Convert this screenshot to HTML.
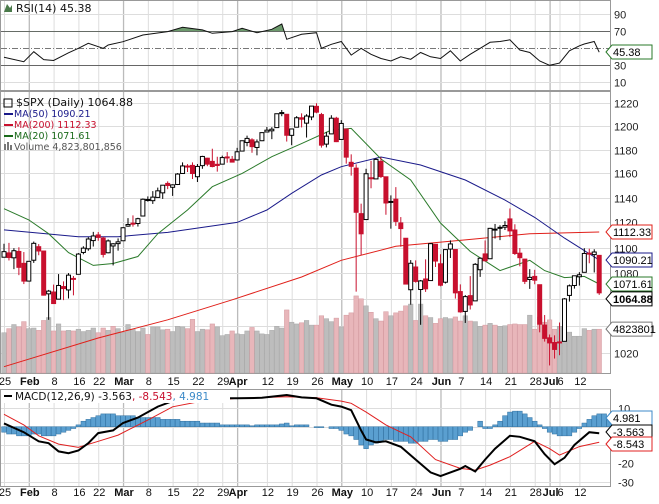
<!DOCTYPE html>
<html><head><meta charset="utf-8"><style>
html,body{margin:0;padding:0;background:#fff;}
svg{display:block;font-family:"Liberation Sans",Arial,sans-serif;}
</style></head><body>
<svg id="chart" width="659" height="504" viewBox="0 0 659 504" xmlns="http://www.w3.org/2000/svg">
<rect x="0" y="0" width="659" height="504" fill="#fff"/>
<g id="grid"></g><g id="vol"></g><g id="lines"></g><g id="candles"></g><g id="rsi"></g><g id="macd"></g><g id="axes"></g><g id="legend"></g>
</svg>
<script>
const dates=['25','26','27','28','29','Feb1','2','3','4','5','8','9','10','11','12','16','17','18','19','22','23','24','25','26','Mar1','2','3','4','5','8','9','10','11','12','15','16','17','18','19','22','23','24','25','26','29','30','31','Apr1','5','6','7','8','9','12','13','14','15','16','19','20','21','22','23','26','27','28','29','30','May3','4','5','6','7','10','11','12','13','14','17','18','19','20','21','24','25','26','27','28','Jun1','2','3','4','7','8','9','10','11','14','15','16','17','18','21','22','23','24','25','28','29','30','Jul1','2','6','7','8','9','12','13','14','15','16'];
const opens=[1092.4,1095.8,1091.94,1096.93,1087.61,1073.89,1090.05,1100.67,1097.25,1064.12,1065.51,1060.06,1069.68,1067.1,1075.95,1079.13,1096.14,1099.03,1105.49,1110,1107.49,1095.89,1101.24,1103.1,1105.36,1117.01,1119.36,1119.12,1125.12,1138.4,1137.56,1140.22,1143.96,1151.71,1148.53,1150.83,1159.94,1166.13,1166.68,1157.25,1166.47,1172.7,1170.03,1167.58,1167.71,1173.75,1171.75,1171.23,1178.71,1186.01,1188.23,1181.75,1187.47,1194.94,1195.94,1198.69,1210.77,1210.17,1192.06,1199.04,1207.16,1202.52,1207.87,1217.07,1209.92,1184.59,1193.3,1206.77,1188.58,1197.5,1169.24,1164.38,1127.04,1122.27,1156.39,1155.43,1170.04,1157.19,1136.52,1138.78,1119.57,1107.34,1067.26,1084.78,1067.42,1075.51,1074.27,1102.59,1087.3,1073.01,1098.82,1098.43,1065.84,1050.81,1062.75,1058.77,1082.65,1095,1091.21,1114.02,1115.98,1116.16,1122.79,1113.9,1095.57,1090.93,1075.1,1077.5,1071.1,1040.56,1031.1,1027.65,1028.09,1028.54,1062.92,1070.5,1077.23,1080.65,1095.61,1094.46,1093.85];
const highs=[1102.97,1103.69,1099.51,1100.22,1096.45,1089.38,1104.73,1102.72,1097.25,1067.13,1071.2,1079.28,1073.67,1080.04,1077.81,1095.67,1101.03,1108.24,1112.42,1112.29,1108.58,1106.42,1103.5,1107.24,1116.11,1123.46,1125.64,1123.73,1139.38,1141.05,1145.37,1148.26,1150.24,1153.41,1150.98,1160.28,1169.2,1167.77,1169.2,1167.82,1174.72,1173.04,1180.69,1173.93,1174.85,1177.83,1174.56,1181.43,1187.73,1191.8,1189.6,1188.55,1194.66,1199.2,1199.04,1210.65,1213.92,1210.17,1197.87,1208.58,1210.99,1210.27,1217.28,1219.8,1211.38,1195.05,1209.36,1207.99,1205.13,1197.5,1175.95,1167.58,1135.13,1163.85,1170.48,1172.87,1173.57,1157.19,1141.88,1148.66,1124.27,1107.34,1090.16,1089.95,1074.75,1090.75,1103.52,1102.59,1094.77,1098.56,1105.67,1098.43,1071.36,1063.15,1077.74,1087.85,1092.25,1105.63,1115.59,1118.74,1117.72,1121.01,1131.23,1118.5,1099.64,1090.93,1083.11,1082.6,1071.1,1048.08,1033.58,1032.95,1042.5,1060.89,1071.25,1078.16,1080.78,1099.46,1099.08,1098.66,1093.85];
const lows=[1092.4,1089.86,1083.11,1078.46,1071.59,1073.89,1087.96,1093.97,1062.78,1044.5,1056.51,1060.06,1059.34,1060.59,1062.97,1079.13,1094.72,1097.48,1100.8,1105.38,1092.18,1095.5,1086.02,1097.56,1105.36,1116.51,1116.58,1116.66,1125.12,1136.77,1134.9,1140.09,1138.99,1146.97,1141.45,1150.35,1159.94,1161.16,1155.33,1152.88,1163.83,1166.01,1165.09,1161.48,1167.71,1168.92,1169.15,1170.69,1178.71,1182.77,1177.25,1175.12,1187.15,1194.71,1188.82,1198.69,1208.5,1186.77,1183.68,1199.04,1198.85,1190.19,1205.1,1211.07,1181.62,1181.81,1193.3,1186.32,1188.58,1168.12,1158.15,1065.79,1094.15,1122.27,1147.71,1155.43,1156.14,1126.14,1114.96,1117.2,1100.66,1071.58,1055.9,1072.7,1040.78,1065.59,1074.27,1084.78,1069.89,1072.03,1091.81,1060.5,1049.86,1042.17,1052.25,1058.77,1077.12,1089.03,1091.21,1107.13,1105.87,1113.93,1108.24,1094.18,1085.31,1071.6,1067.89,1071.45,1035.18,1028.33,1010.91,1015.93,1018.35,1028.54,1058.24,1068.1,1070.45,1080.65,1087.68,1080.53,1063.32];
const closes=[1096.78,1092.17,1097.5,1084.53,1073.87,1089.19,1103.32,1097.28,1063.11,1066.19,1056.74,1070.52,1068.13,1078.47,1075.51,1094.87,1099.51,1106.75,1109.17,1108.01,1094.6,1105.24,1102.94,1104.49,1115.71,1118.31,1118.79,1122.97,1138.7,1138.5,1140.45,1145.61,1150.24,1149.99,1150.51,1159.46,1166.21,1165.83,1159.9,1165.81,1174.17,1167.72,1165.73,1166.59,1173.22,1173.27,1169.43,1178.1,1187.44,1189.44,1182.45,1186.44,1194.37,1196.48,1197.3,1210.65,1211.67,1192.13,1197.52,1207.17,1205.94,1208.67,1217.28,1212.05,1183.71,1191.36,1206.78,1186.69,1202.26,1173.6,1165.9,1128.15,1110.88,1159.73,1155.79,1171.67,1157.44,1135.68,1136.94,1120.8,1115.05,1071.59,1087.69,1073.65,1074.03,1067.95,1103.06,1089.41,1070.71,1098.38,1102.83,1064.88,1050.47,1062,1055.69,1086.84,1091.6,1089.63,1115.23,1114.61,1116.04,1117.51,1113.2,1095.31,1092.04,1073.69,1076.76,1074.57,1041.24,1030.71,1027.37,1022.58,1028.06,1060.27,1070.25,1077.96,1078.75,1095.34,1095.17,1096.48,1064.88];
const volumes=[4.2,4.9,5.6,5.2,6.1,4.9,5.0,4.6,6.3,6.8,4.5,5.7,4.5,4.6,4.5,4.8,4.4,4.6,5.0,4.2,5.0,4.6,5.3,4.9,4.3,5.6,4.8,4.4,5.0,3.9,5.2,5.2,4.7,4.8,4.4,5.3,5.2,4.9,6.5,4.4,4.8,4.7,5.7,5.2,3.7,3.9,4.5,4.0,3.9,4.5,5.1,4.5,4.0,3.9,4.6,5.3,5.0,8.1,6.0,5.7,5.9,6.3,5.5,5.5,7.1,6.6,6.1,6.7,5.2,7.2,7.6,10.5,10.0,8.8,7.7,6.6,6.2,7.8,7.1,7.6,7.9,8.8,9.1,6.3,9.1,7.1,6.8,5.8,6.6,6.8,6.6,6.9,6.2,7.1,6.2,6.1,5.3,5.5,5.8,5.5,5.3,5.4,5.6,5.7,5.6,5.6,7.2,4.8,6.9,6.0,6.4,4.8,5.3,4.8,4.3,3.6,3.6,4.9,4.6,4.8,4.8];
const ma50Idx=[0,15,23,33,40,47,53,58,64,68,76,84,93,101,107,113,120];
const ma50Val=[1114,1108.6,1108.6,1112,1116,1120,1130,1143.6,1158.7,1165.6,1173.7,1167,1154.5,1138,1124,1107.5,1090.21];
const ma20Idx=[0,5,9,13,18,22,27,31,37,42,48,54,60,66,70,76,82,88,94,100,103,106,109,113,117,120];
const ma20Val=[1131,1122,1111,1096,1086,1087.5,1093,1111,1130,1149,1160,1174,1185,1196.6,1198,1172,1154.5,1119.5,1097,1082,1086,1090,1082,1076.6,1077.5,1071.61];
const ma200Idx=[0,19,33,46,60,68,79,93,106,120];
const ma200Val=[1010,1031,1044.5,1059.6,1077,1090,1101,1106,1111,1112.33];
const rsiIdx=[0,4,6,8,10,13,15,17,20,21,24,28,33,36,40,42,46,48,51,54,56,57,60,63,64,66,68,70,72,74,76,78,80,82,84,86,88,90,92,94,96,98,100,102,104,106,108,110,112,114,116,117,119,120];
const rsiVal=[39.4,34.2,46,36.7,35.7,44.7,50,55.9,50,53.9,57.8,65.7,69.6,74.7,71.6,67.6,69.6,73.5,68.4,72.3,78.6,60.6,66.5,68.4,50,54.7,58,42,50,43,38,35,40,37,45,40,38,47,35,43,50,57,58,60,48,45,35,30,32.6,47,53,55,58,45.38];
const macdIdx=[0,4,7,9,11,13,15,17,19,22,24,27,31,34,37,40,47,52,57,60,63,66,68,70,72,73,75,77,80,83,86,88,90,92,93,95,97,99,102,104,107,109,111,113,115,118,120];
const macdVal=[1.8,-3,-8,-9,-13.5,-14.5,-13,-9,-3.5,-2,2,5,11,14,15,15.5,15.5,15.8,17.3,16,15.5,12,11,9,-2,-7,-8.5,-8,-11,-18,-25,-27,-25,-23,-21.5,-24.5,-18,-12,-5,-5.5,-8,-15,-20.5,-17,-10,-3,-3.563];
const sigIdx=[0,4,7,11,15,19,23,29,34,39,47,57,63,68,70,73,77,80,82,87,92,95,98,102,107,110,112,116,120];
const sigVal=[6.8,1,-5,-9.5,-11.3,-8,-4.6,3.6,10.9,13.5,15.5,16.4,15.8,14,12.8,8,1,-3,-5.5,-18,-22.8,-23.7,-21,-16.4,-8,-12,-15.5,-10.9,-8.543];
const hist=[-3,-4,-4,-5,-5,-5,-4,-4,-5,-5,-5,-4,-3,-2,-1,1,3,4,5,6,7,7,7,6,6,6,6,5,5,5,5,5,4,4,4,4,3,3,3,3,2,2,2,2,1,1,1,1,1,1,0.5,1,1,1,1,1,1.5,2,0.5,1,1,1,0,-0.5,-0.5,0,-1,-1,-2,-4,-5,-7,-10,-12,-10,-9,-8,-7,-7,-8,-8,-8,-9,-9,-8,-8,-7,-7,-8,-8,-7,-7,-5,-3,-2,0,3,-1,-1,1,3,6,8,8.5,8.5,7,5,3,1,-1,-3,-4,-5,-5,-5,-3,-1,2,4,6,7,7,4.981];
const xLabels=[[0,'25'],[5,'Feb'],[10,'8'],[15,'16'],[19,'22'],[24,'Mar'],[29,'8'],[34,'15'],[39,'22'],[44,'29'],[47,'Apr'],[53,'12'],[58,'19'],[63,'26'],[68,'May'],[73,'10'],[78,'17'],[83,'24'],[88,'Jun'],[92,'7'],[97,'14'],[102,'21'],[107,'28'],[110,'Jul'],[112,'6'],[116,'12']];
const priceTicks=[1220,1200,1180,1160,1140,1120,1100,1080,1060,1040,1020];
const rsiTicks=[90,70,50,30,10];
const macdTicks=[10,0,-10,-20,-30];

const NS='http://www.w3.org/2000/svg';
const PR=610;
function X(i){return 4+i*4.96;}
function PY(p){return 103+1396*Math.log(1220/p);}
function RY(r){return 48.3-(r-50)*0.85;}
function MY(m){return 426.7-m*1.83;}
function VY(v){return 373-(v+2.7)*5.84;}
function mk(par,tag,a){const e=document.createElementNS(NS,tag);for(const k in a)e.setAttribute(k,a[k]);document.getElementById(par).appendChild(e);return e;}
function txt(par,x,y,s,a){const e=mk(par,'text',Object.assign({x:x,y:y},a||{}));e.textContent=s;return e;}
function poly(idx,val,fx,fy){return idx.map((i,k)=>fx(i).toFixed(1)+','+fy(val[k]).toFixed(1)).join(' ');}

// panels
let e;
e=mk('grid','rect',{x:0.5,y:0.5,width:PR,height:90,fill:'#fff',stroke:'#999'});


e=mk('grid','rect',{x:0.5,y:91.5,width:PR,height:282,fill:'#fff',stroke:'#999'});


e=mk('grid','rect',{x:0.5,y:389.5,width:PR,height:97,fill:'#fff',stroke:'#999'});


// vertical grid
xLabels.forEach(l=>{const x=X(l[0])+0.5;const month=isNaN(+l[1]);const c=month?'#bbb':'#ddd';
 [[1,90],[92,373],[390,486]].forEach(r=>{const g=mk('grid','line',{x1:x,x2:x,y1:r[0],y2:r[1],stroke:c,'stroke-width':month?1.3:1});
 
 });
 [381,492].forEach(y=>{const t=txt('axes',X(l[0])+1,y+4,l[1],{'font-size':11,'text-anchor':'middle','font-weight':month?'bold':'normal',fill:'#111'});
 
 });
});
priceTicks.forEach(p=>{const y=Math.round(PY(p))+0.5;const g=mk('grid','line',{x1:1,x2:PR,y1:y,y2:y,stroke:'#ddd'});
 
 
 const t=txt('axes',614,y+4,String(p),{'font-size':11,fill:'#222'});
 
 });
rsiTicks.forEach(r=>{const y=Math.round(RY(r))+0.5;
 const g=mk('grid','line',{x1:1,x2:PR,y1:y,y2:y,stroke:(r==70||r==30)?'#666':(r==50?'#777':'#ddd'),'stroke-dasharray':r==50?'6,2,1,2':'none'});
 
 
 if(r!=50){const t=txt('axes',614,y+4,String(r),{'font-size':11,fill:'#222'});
 
 }});
macdTicks.forEach(m=>{const y=Math.round(MY(m))+0.5;const g=mk('grid','line',{x1:1,x2:PR,y1:y,y2:y,stroke:'#ddd'});
 
 
 if(m!=-10){const t=txt('axes',618,y+4,String(m),{'font-size':11,fill:'#222'});
 
 }});

// volume
volumes.forEach((v,i)=>{const down=i>0&&closes[i]<closes[i-1];const y=VY(v);
 const b=mk('vol','rect',{x:X(i)-2.3,y:y,width:4.6,height:373-y,fill:down?'#e8b6ba':'#bdbdbd',stroke:down?'#d49aa0':'#a8a8a8','stroke-width':0.5});
 
 });

// MAs
[[ma200Idx,ma200Val,'#e0201a','ma200-line'],[ma50Idx,ma50Val,'#1a1a8a','ma50-line'],[ma20Idx,ma20Val,'#2a7a2a','ma20-line']].forEach(s=>{
 const l=mk('lines','polyline',{points:poly(s[0],s[1],X,PY),fill:'none',stroke:s[2],'stroke-width':1});
 
 });

// candles
closes.forEach((c,i)=>{const o=opens[i];const x=X(i);const up=c>=o;const col=up?'#000':'#c8102e';
 const w=mk('candles','line',{x1:x,x2:x,y1:PY(highs[i]),y2:PY(lows[i]),stroke:col,'stroke-width':1});
 
 
 const t=PY(Math.max(o,c)),b=PY(Math.min(o,c));
 const r=mk('candles','rect',{x:x-2,y:t,width:4,height:Math.max(1,b-t),fill:up?'#fff':'#c8102e',stroke:col,'stroke-width':1});
 
 });

// RSI with fill above 70
const rsiPts=poly(rsiIdx,rsiVal,X,RY);
const clip=mk('rsi','clipPath',{id:'above70'});
mk('above70','rect',{x:0,y:0,width:PR,height:RY(70)});
const rf=mk('rsi','polygon',{points:X(0)+','+RY(70)+' '+rsiPts+' '+X(120)+','+RY(70),fill:'#6d9a6d','clip-path':'url(#above70)'});


const rl=mk('rsi','polyline',{points:rsiPts,fill:'none',stroke:'#111','stroke-width':1});



// MACD
hist.forEach((h,i)=>{const y0=MY(0),y1=MY(h);
 const b=mk('macd','rect',{x:X(i)-2.4,y:Math.min(y0,y1),width:4.8,height:Math.abs(y1-y0),fill:'#5a9fd0',stroke:'#2f6f9f','stroke-width':0.5});
 
 });
const sl=mk('macd','polyline',{points:poly(sigIdx,sigVal,X,MY),fill:'none',stroke:'#e02020','stroke-width':1});


const ml=mk('macd','polyline',{points:poly(macdIdx,macdVal,X,MY),fill:'none',stroke:'#000','stroke-width':2});



// value tags
function tag(y,s,col,name,bold){const g=mk('legend','g',{});
 
 
 const p=document.createElementNS(NS,'path');p.setAttribute('d',`M606,${y} L612,${y-7} L652,${y-7} L652,${y+7} L612,${y+7} Z`);p.setAttribute('fill','#fff');p.setAttribute('stroke',col);g.appendChild(p);
 const t=document.createElementNS(NS,'text');t.setAttribute('x',613);t.setAttribute('y',y+4);t.setAttribute('font-size',11);t.setAttribute('fill','#000');if(bold)t.setAttribute('font-weight','bold');t.textContent=s;g.appendChild(t);}
tag(52,'45.38','#2a7a2a','rsi-value-tag');
tag(PY(1112.33),'1112.33','#e0201a','ma200-value-tag');
tag(PY(1090.21),'1090.21','#1a1a8a','ma50-value-tag');
tag(PY(1071.61),'1071.61','#2a7a2a','ma20-value-tag');
tag(PY(1064.88)+6,'1064.88','#000','price-value-tag',true);
tag(VY(4.82),'4823801','#777','volume-value-tag');
tag(418,'4.981','#3c8ac8','histogram-value-tag');
tag(432,'-3.563','#000','macd-value-tag');
tag(444,'-8.543','#e02020','signal-value-tag');

// legends
function leg(x,y,s,col,name,size){const t=txt('legend',x,y,s,{'font-size':size||11,fill:col,'font-family':'DejaVu Sans, sans-serif'});
 
 return t;}
mk('legend','path',{d:'M4,12 L7,4 L10,8 L12,5 L12,12 Z',fill:'#4a7a4a'});
leg(16,12,'RSI(14) 45.38','#111','rsi-legend',11);
leg(16,106,'$SPX (Daily) 1064.88','#111','price-legend',11);
mk('legend','rect',{x:4,y:99,width:8,height:8,fill:'none',stroke:'#000'});
[['MA(50) 1090.21','#1a1a8a',117,'ma50-legend'],['MA(200) 1112.33','#c8102e',128,'ma200-legend'],['MA(20) 1071.61','#1a6a1a',139,'ma20-legend']].forEach(l=>{
 mk('legend','rect',{x:4,y:l[2]-4,width:9,height:2,fill:l[1]});leg(14,l[2],l[0],l[1],l[3],9.5);});
mk('legend','rect',{x:4,y:144,width:2,height:6,fill:'#777'});mk('legend','rect',{x:7,y:142,width:2,height:8,fill:'#777'});mk('legend','rect',{x:10,y:145,width:2,height:5,fill:'#777'});
leg(14,150,'Volume 4,823,801,856','#555','volume-legend',9.5);
mk('legend','rect',{x:2,y:390,width:228,height:13,fill:'#fff'});
mk('legend','rect',{x:4,y:395,width:8,height:2,fill:'#000'});
const mt=txt('legend',15,400,'',{'font-size':10.5,'font-family':'DejaVu Sans, sans-serif'});


[['MACD(12,26,9) -3.563','#111'],[', -8.543','#c8102e'],[', 4.981','#3c8ac8']].forEach(p=>{const s=document.createElementNS(NS,'tspan');s.setAttribute('fill',p[1]);s.textContent=p[0];mt.appendChild(s);});
</script>
</body></html>
